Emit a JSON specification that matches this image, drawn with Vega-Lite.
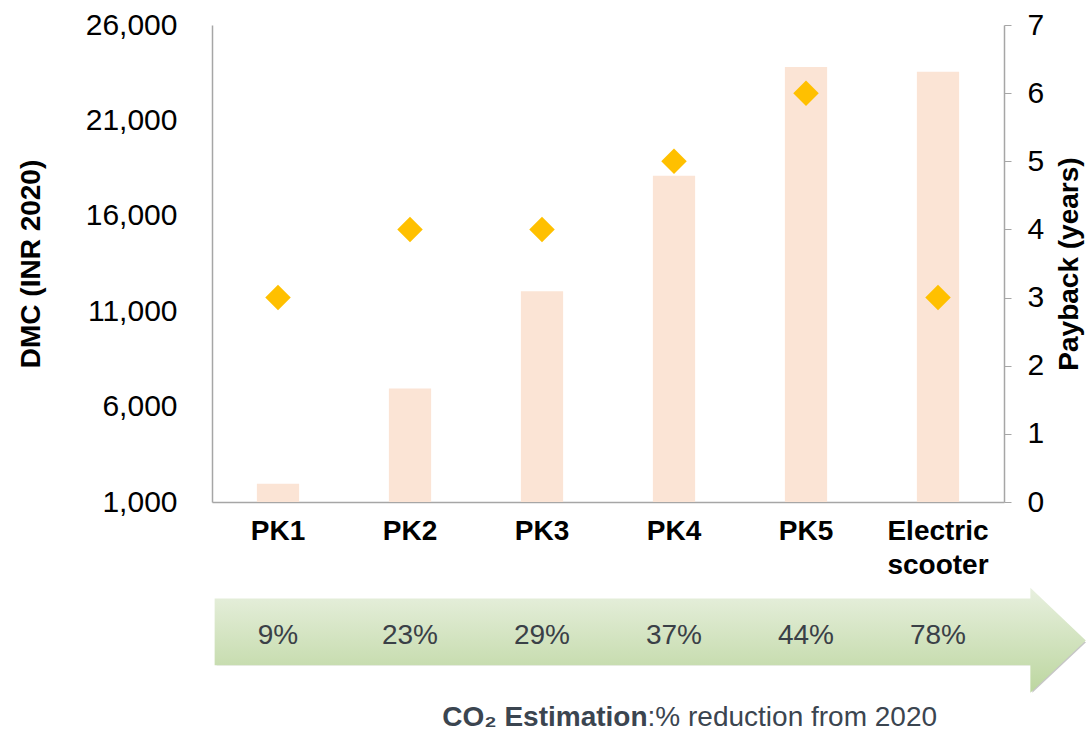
{
  "$schema": "https://vega.github.io/schema/vega-lite/v6.json",
  "padding": {"left": 17, "top": 10, "right": 0, "bottom": 0},
  "spacing": 4,
  "config": {"view": {"stroke": null}, "font": "Liberation Sans"},
  "datasets": {
    "main": [
      {"category": "PK1", "dmc": 1950, "payback": 3, "reduction": "9%"},
      {"category": "PK2", "dmc": 6950, "payback": 4, "reduction": "23%"},
      {"category": "PK3", "dmc": 12050, "payback": 4, "reduction": "29%"},
      {"category": "PK4", "dmc": 18100, "payback": 5, "reduction": "37%"},
      {"category": "PK5", "dmc": 23800, "payback": 6, "reduction": "44%"},
      {"category": "Electric scooter", "dmc": 23550, "payback": 3, "reduction": "78%"}
    ],
    "arrow": [
      {"ax": 0.02, "hi": 1.12, "lo": -0.95},
      {"ax": 6.2, "hi": 1.12, "lo": -0.95},
      {"ax": 6.2001, "hi": 1.45, "lo": -1.8},
      {"ax": 6.62, "hi": -0.18, "lo": -0.18}
    ],
    "caption1": [{"t": "CO₂ Estimation"}],
    "caption2": [{"t": ":% reduction from 2020"}]
  },
  "vconcat": [
    {
      "width": 792,
      "height": 477,
      "data": {"name": "main"},
      "encoding": {
        "x": {
          "field": "category", "type": "nominal", "sort": null,
          "scale": {"paddingInner": 0.68, "paddingOuter": 0.34},
          "axis": {
            "title": null, "labelAngle": 0, "labelFontWeight": "bold", "labelFontSize": 28,
            "labelColor": "#000000", "ticks": false, "labelPadding": 15, "domainColor": "#a6a6a6",
            "domainWidth": 1.5, "labelLineHeight": 34, "labelLimit": 0, "labelBound": false,
            "labelExpr": "datum.label == 'Electric scooter' ? ['Electric', 'scooter'] : datum.label"
          }
        }
      },
      "layer": [
        {
          "mark": {"type": "bar", "color": "#FBE4D5"},
          "encoding": {
            "y": {
              "field": "dmc", "type": "quantitative",
              "scale": {"domain": [1000, 26000], "nice": false, "zero": false},
              "axis": {
                "title": "DMC (INR 2020)", "values": [1000, 6000, 11000, 16000, 21000, 26000],
                "format": ",d", "ticks": false, "grid": false, "labelFontSize": 30, "labelColor": "#000000",
                "labelPadding": 35, "titleFontSize": 28, "titleFontWeight": "bold", "titleColor": "#000000",
                "titlePadding": 40, "domainColor": "#a6a6a6", "domainWidth": 1.5, "labelFlush": false
              }
            },
            "y2": {"datum": 1000}
          }
        },
        {
          "mark": {"type": "point", "shape": "diamond", "filled": true, "color": "#FFC000", "size": 650, "opacity": 1},
          "encoding": {
            "y": {
              "field": "payback", "type": "quantitative",
              "scale": {"domain": [0, 7], "nice": false},
              "axis": {
                "orient": "right", "title": "Payback (years)", "values": [0, 1, 2, 3, 4, 5, 6, 7],
                "grid": false, "tickSize": 7, "tickColor": "#a6a6a6", "domainColor": "#a6a6a6", "domainWidth": 1.5,
                "labelPadding": 16, "labelFontSize": 30, "labelColor": "#000000", "labelFlush": false,
                "titleAngle": 270, "titleBaseline": "top", "titlePadding": 12, "titleFontSize": 28,
                "titleFontWeight": "bold", "titleColor": "#000000"
              }
            }
          }
        }
      ],
      "resolve": {"scale": {"y": "independent"}}
    },
    {
      "width": 873,
      "height": 155,
      "layer": [
        {
          "data": {"name": "arrow"},
          "mark": {"type": "area", "color": "#808080", "opacity": 0.45, "xOffset": 2, "yOffset": 4},
          "encoding": {
            "x": {"field": "ax", "type": "quantitative", "scale": {"domain": [0, 6.614], "nice": false, "zero": false}, "axis": null},
            "y": {"field": "hi", "type": "quantitative", "scale": {"domain": [-3.2, 1.6], "nice": false, "zero": false}, "axis": null},
            "y2": {"field": "lo"}
          }
        },
        {
          "data": {"name": "arrow"},
          "mark": {
            "type": "area",
            "color": {
              "gradient": "linear", "x1": 0, "y1": 0, "x2": 0, "y2": 1,
              "stops": [{"offset": 0, "color": "#e8f0df"}, {"offset": 1, "color": "#bcd69f"}]
            },
            "opacity": 1
          },
          "encoding": {
            "x": {"field": "ax", "type": "quantitative", "scale": {"domain": [0, 6.614], "nice": false, "zero": false}, "axis": null},
            "y": {"field": "hi", "type": "quantitative", "scale": {"domain": [-3.2, 1.6], "nice": false, "zero": false}, "axis": null},
            "y2": {"field": "lo"}
          }
        },
        {
          "data": {"name": "main"},
          "mark": {"type": "text", "fontSize": 28, "color": "#3a4047", "baseline": "middle", "align": "center"},
          "encoding": {
            "x": {"field": "category", "type": "nominal", "sort": null, "scale": {"type": "band", "paddingInner": 0, "paddingOuter": 0.307, "align": 0}, "axis": null},
            "y": {"datum": -0.05, "type": "quantitative", "scale": {"domain": [-3.2, 1.6], "nice": false, "zero": false}, "axis": null},
            "text": {"field": "reduction"}
          }
        },
        {
          "data": {"name": "caption1"},
          "mark": {"type": "text", "fontSize": 28, "fontWeight": "bold", "color": "#3b4550", "baseline": "middle", "align": "right"},
          "encoding": {
            "x": {"datum": 3.3, "type": "quantitative", "scale": {"domain": [0, 6.614], "nice": false, "zero": false}, "axis": null},
            "y": {"datum": -2.58, "type": "quantitative", "scale": {"domain": [-3.2, 1.6], "nice": false, "zero": false}, "axis": null},
            "text": {"field": "t"}
          }
        },
        {
          "data": {"name": "caption2"},
          "mark": {"type": "text", "fontSize": 28, "color": "#3b4550", "baseline": "middle", "align": "left"},
          "encoding": {
            "x": {"datum": 3.3, "type": "quantitative", "scale": {"domain": [0, 6.614], "nice": false, "zero": false}, "axis": null},
            "y": {"datum": -2.58, "type": "quantitative", "scale": {"domain": [-3.2, 1.6], "nice": false, "zero": false}, "axis": null},
            "text": {"field": "t"}
          }
        }
      ],
      "resolve": {"scale": {"x": "independent"}}
    }
  ]
}
